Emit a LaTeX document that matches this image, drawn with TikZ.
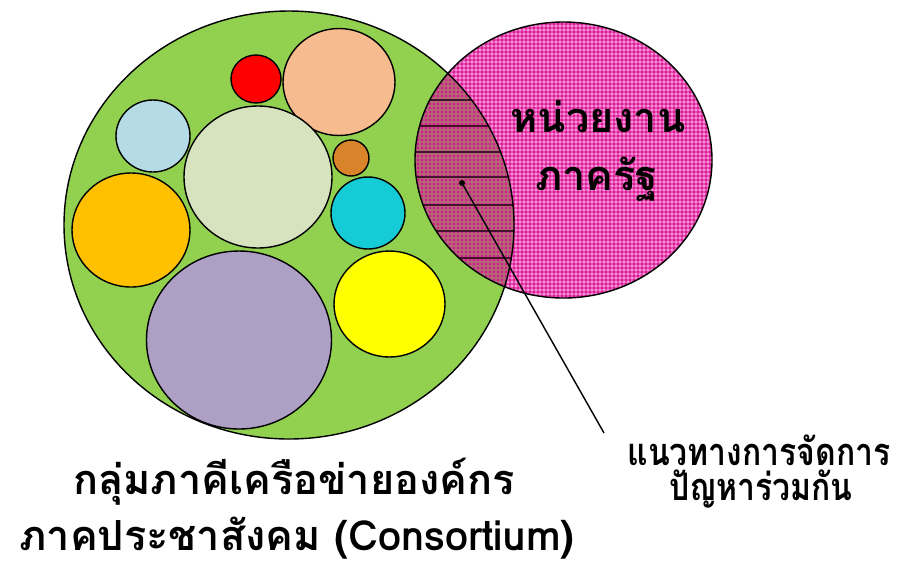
\documentclass[tikz,border=0pt]{standalone}
\usepackage{fontspec}
\newfontfamily\thaifont[Script=Thai]{Loma}
\usetikzlibrary{patterns.meta}

\definecolor{netgreen}{HTML}{92D050}
\definecolor{pkdark}{HTML}{DC1C96}
\definecolor{pkmid}{HTML}{E852B4}
\definecolor{pklight}{HTML}{F294D4}
\definecolor{lsdark}{HTML}{D41C8A}
\definecolor{lsmid}{HTML}{BC5A7C}
\definecolor{lslight}{HTML}{A87272}
\definecolor{lensline}{HTML}{45102E}
\definecolor{cred}{HTML}{FF0000}
\definecolor{cpeach}{HTML}{F6BB8E}
\definecolor{cblue}{HTML}{B5DCE6}
\definecolor{cpale}{HTML}{D7E2BF}
\definecolor{cbrown}{HTML}{D9842A}
\definecolor{ccyan}{HTML}{14CBD6}
\definecolor{cgold}{HTML}{FFC000}
\definecolor{cviolet}{HTML}{AE9FC4}
\definecolor{cyellow}{HTML}{FFFF00}

\tikzdeclarepattern{
  name=pinkcheck, type=colored,
  bottom left={(0pt,0pt)}, top right={(2.84pt,2.84pt)},
  tile size={(2.84pt,2.84pt)},
  code={
    \fill[pkdark] (0pt,0pt) rectangle (2.84pt,2.84pt);
    \fill[pkmid] (0pt,0pt) rectangle (1.42pt,2.84pt);
    \fill[pkmid] (0pt,0pt) rectangle (2.84pt,1.42pt);
    \fill[pklight] (0pt,0pt) rectangle (1.42pt,1.42pt);
  }
}
\tikzdeclarepattern{
  name=lenscheck, type=colored,
  bottom left={(0pt,0pt)}, top right={(2.84pt,2.84pt)},
  tile size={(2.84pt,2.84pt)},
  code={
    \fill[lsdark] (0pt,0pt) rectangle (2.84pt,2.84pt);
    \fill[lsmid] (0pt,0pt) rectangle (1.42pt,2.84pt);
    \fill[lsmid] (0pt,0pt) rectangle (2.84pt,1.42pt);
    \fill[lslight] (0pt,0pt) rectangle (1.42pt,1.42pt);
  }
}

\tikzset{
  rim/.style={draw=black, line width=1pt},
  bigtext/.style={font=\thaifont\bfseries\fontsize{29.5}{34}\selectfont, inner sep=0pt, anchor=base},
  smalltext/.style={font=\thaifont\bfseries\fontsize{27}{31}\selectfont, inner sep=0pt, anchor=base}
}

\begin{document}
\begin{tikzpicture}[x=0.025cm, y=-0.025cm]
      \useasboundingbox (0,0) rectangle (899,562);

      % Network circle (green)
      \fill[netgreen] (289,225) ellipse [x radius=225, y radius=214];

      % Member circles inside the network
      \draw[rim, fill=cred] (256,79) ellipse [x radius=25, y radius=24];
      \draw[rim, fill=cpeach] (339,82) ellipse [x radius=56, y radius=53.5];
      \draw[rim, fill=cblue] (153,136) ellipse [x radius=37, y radius=36];
      \draw[rim, fill=cpale] (258,177) ellipse [x radius=74, y radius=71];
      \draw[rim, fill=cbrown] (351,158) ellipse [x radius=18, y radius=18];
      \draw[rim, fill=ccyan] (368,213) ellipse [x radius=37, y radius=36];
      \draw[rim, fill=cgold] (131,230) ellipse [x radius=59, y radius=57];
      \draw[rim, fill=cviolet] (239,340) ellipse [x radius=92.5, y radius=89];
      \draw[rim, fill=cyellow] (389.5,304) ellipse [x radius=55.5, y radius=53];

      % Government circle (pink)
      \fill[pattern=pinkcheck] (563.5,160) ellipse [x radius=148.5, y radius=138];

      % Shared area with stripes
      \begin{scope}
        \clip (289,225) ellipse [x radius=225, y radius=214];
        \clip (563.5,160) ellipse [x radius=148.5, y radius=138];
        \fill[pattern=lenscheck] (400,40) rectangle (520,300);
        \foreach \ly in {100,126,152,177,205,231,258}
          \draw[lensline, line width=1.1pt] (400,\ly) -- (520,\ly);
      \end{scope}

      % Outlines of both circles
      \draw[rim] (289,225) ellipse [x radius=225, y radius=214];
      \draw[rim] (563.5,160) ellipse [x radius=148.5, y radius=138];

      % Labels
      \node[bigtext] (govtop) at (598,132) {หน่วยงาน};
      \node[bigtext] (govbot) at (597,190) {ภาครัฐ};
      \node[bigtext] (netone) at (294,494) {กลุ่มภาคีเครือข่ายองค์กร};
      \node[bigtext, text depth=0pt] (nettwo) at (297,550) {ภาคประชาสังคม (Consortium)};
      \node[smalltext] (jointone) at (759,465) {\scalebox{0.84}[1]{แนวทางการจัดการ}};
      \node[smalltext] (jointtwo) at (761,500) {\scalebox{0.84}[1]{ปัญหาร่วมกัน}};

      % Pointer from shared area to its label
      \coordinate (lensdot) at (462,183);
      \coordinate (pointend) at (604,433);
      \fill (lensdot) circle (3);
      \draw[line width=1pt] (lensdot) -- (pointend);

    \end{tikzpicture}
\end{document}
